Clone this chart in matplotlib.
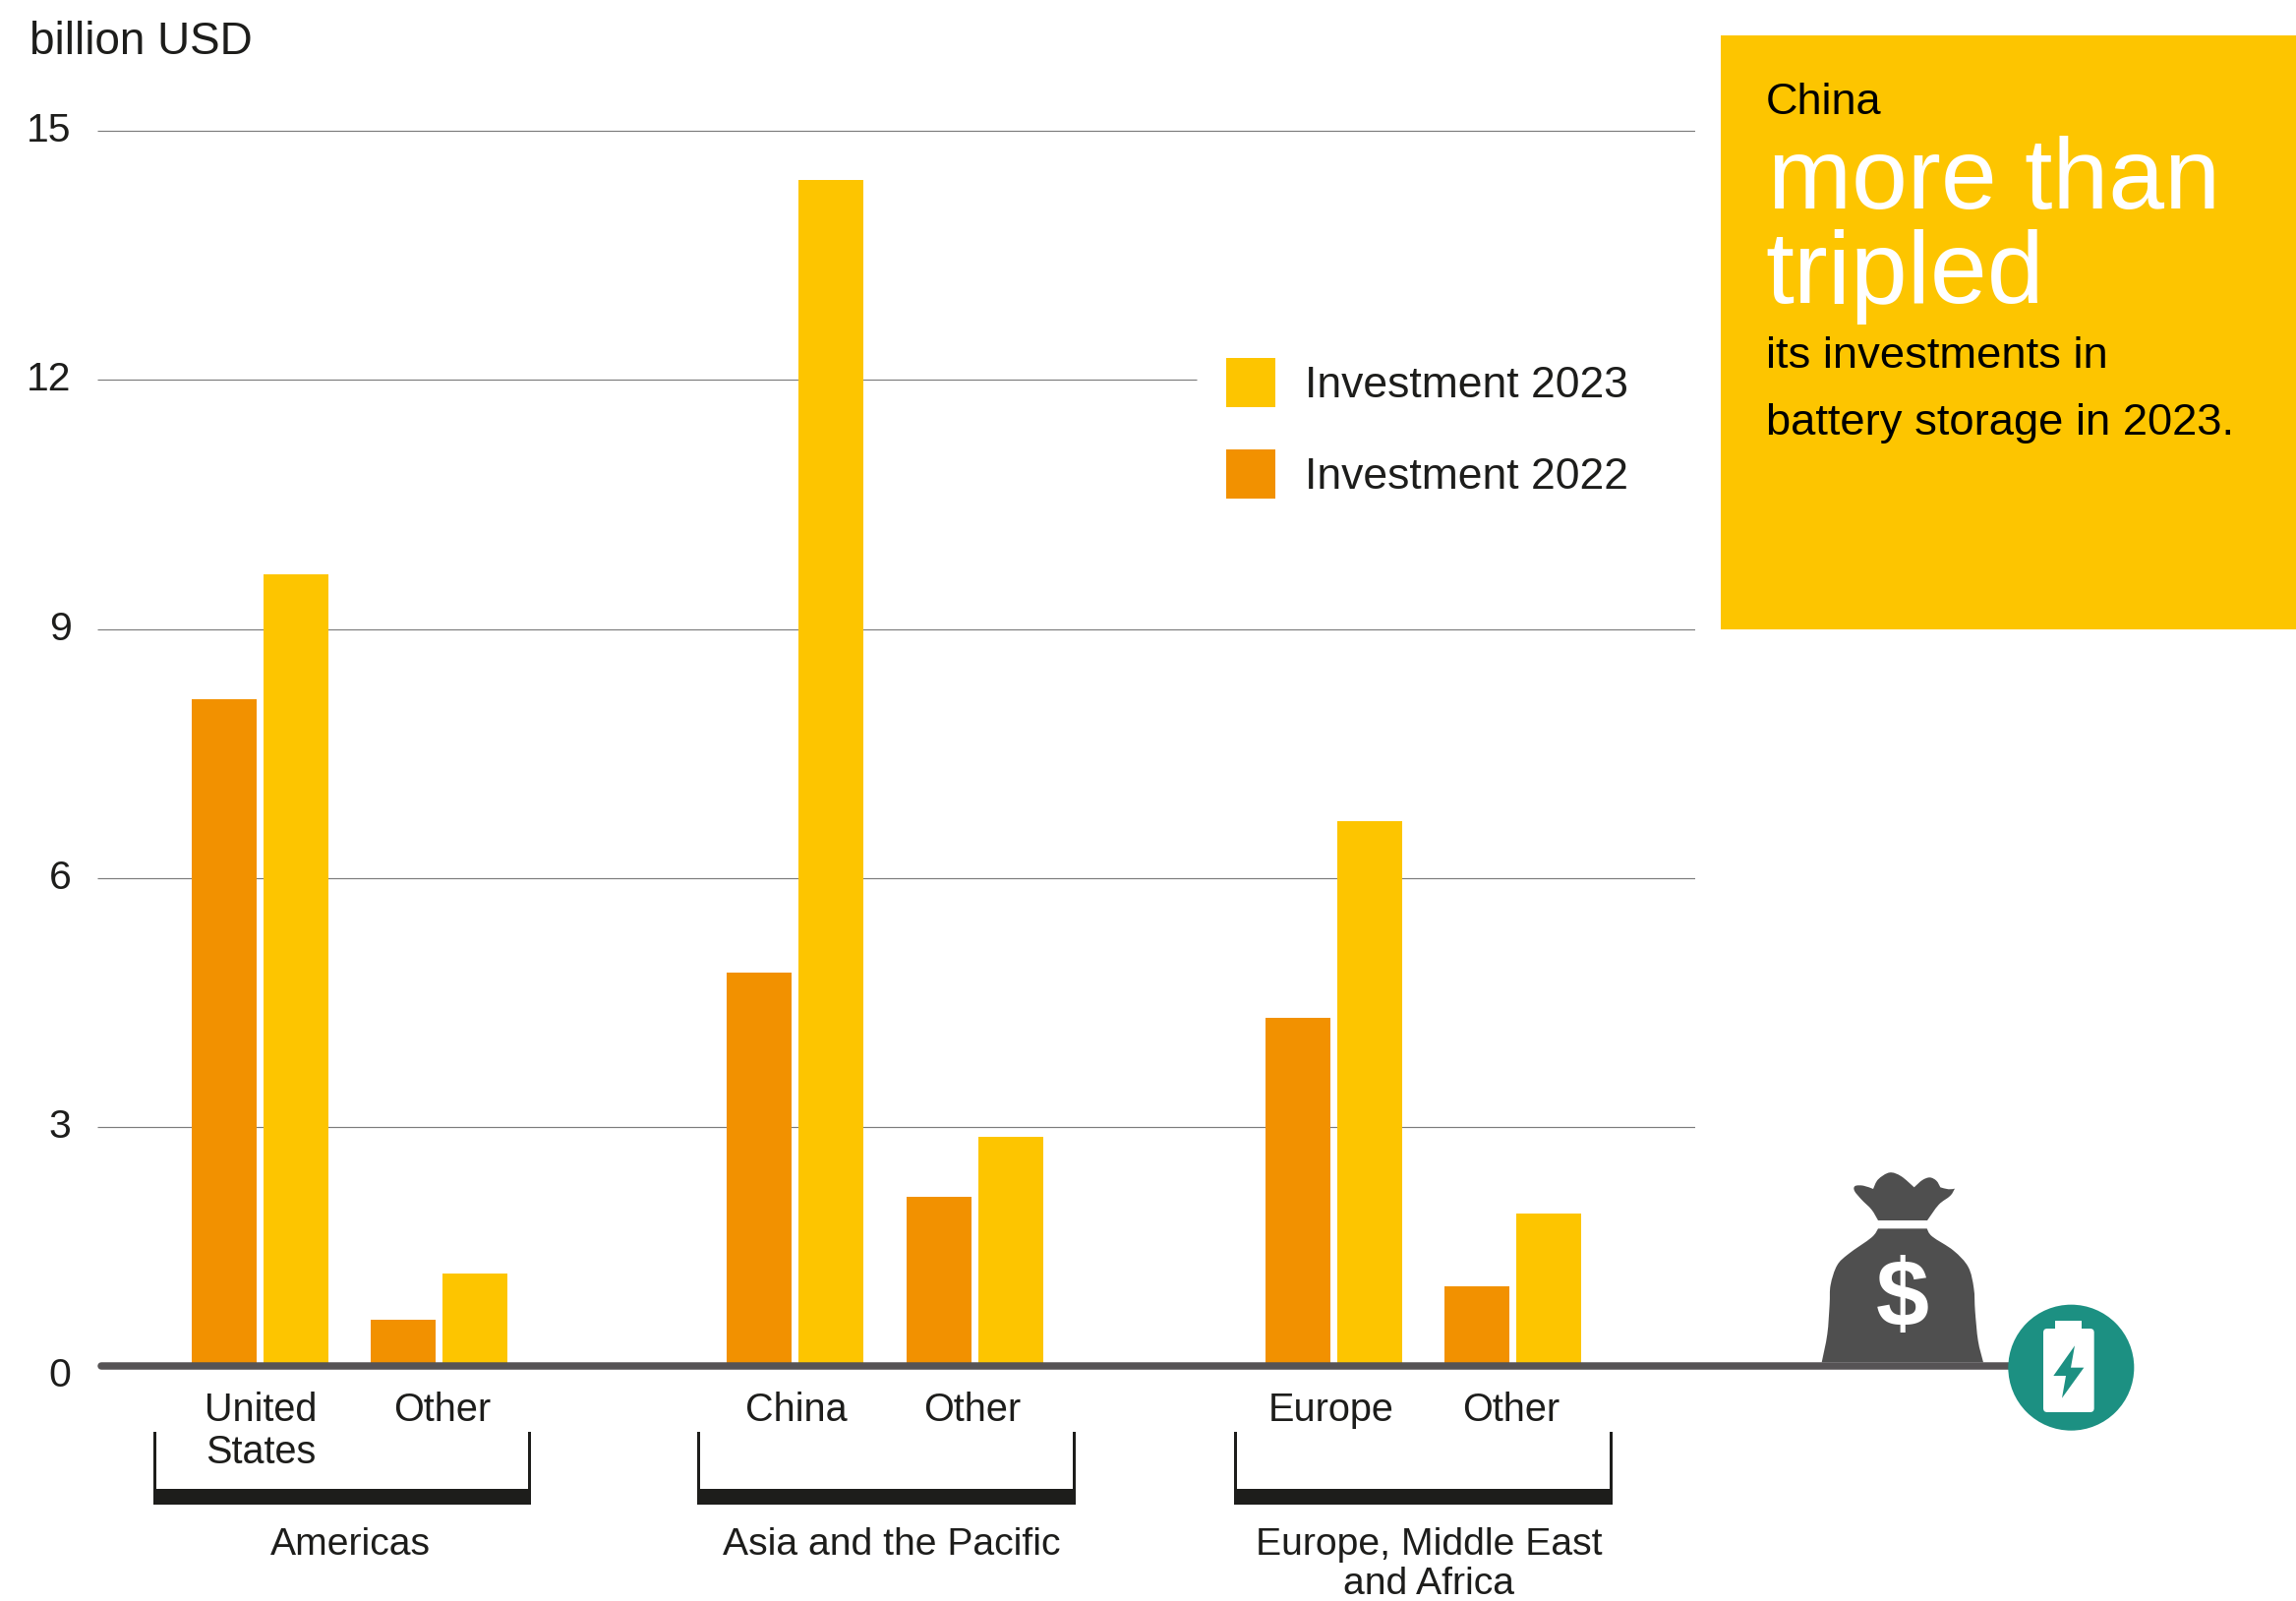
import matplotlib
matplotlib.use("Agg")
import matplotlib.pyplot as plt
from matplotlib.patches import Rectangle, Circle, FancyBboxPatch, PathPatch, Polygon
from matplotlib.path import Path
from matplotlib.transforms import ScaledTranslation

plt.rcParams['font.family'] = ['Liberation Sans', 'DejaVu Sans']

# Battery storage investment, billion USD
categories = ["United\nStates", "Other", "China", "Other", "Europe", "Other"]
investment_2022 = [8.15, 0.68, 4.86, 2.16, 4.32, 1.08]
investment_2023 = [9.66, 1.24, 14.41, 2.88, 6.69, 1.96]
y_ticks = [0, 3, 6, 9, 12, 15]
regions = ["Americas", "Asia and the Pacific", "Europe, Middle East\nand Africa"]

# Category slots along the x axis: pairs of bars, with a gap between regions
slots = [0, 1, 2.99, 3.995, 6, 7]

INK = "#1d1d1b"
ORANGE = "#F29100"
YELLOW = "#FDC500"
AXIS_GREY = "#565355"
GRID_GREY = "#7c7c7c"
TEAL = "#1C9082"

W, H = 2335, 1628
fig = plt.figure(figsize=(W / 100, H / 100), dpi=100, facecolor="white")

# Plot area: one slot is 182 px wide, one billion USD is 84.42 px tall
PX_X0, PX_SLOT = 264.5, 182.0
PX_Y0, PX_UNIT = 1399.4, 84.42
left, right, top, bottom = 99, 1724, 100, 1410


def data_x(px):
    return (px - PX_X0) / PX_SLOT


def data_y(px):
    return (PX_Y0 - px) / PX_UNIT


ax = fig.add_axes([left / W, 1 - bottom / H, (right - left) / W, (bottom - top) / H])
ax.set_xlim(data_x(left), data_x(right))
ax.set_ylim(data_y(bottom), data_y(top))
ax.patch.set_alpha(0)
for s in ax.spines.values():
    s.set_visible(False)
ax.set_xticks([])
ax.set_yticks(y_ticks)
ax.set_yticklabels([str(t) for t in y_ticks], fontsize=29.5, color=INK)
ax.tick_params(axis="y", length=0, pad=19)
lift = ScaledTranslation(0, 4 / 100, fig.dpi_scale_trans)
for tl in ax.get_yticklabels():
    tl.set_transform(tl.get_transform() + lift)

# Horizontal rules; the one at 12 stops short of the legend
for t in y_ticks[1:]:
    end = data_x(1217) if t == 12 else data_x(right)
    ax.hlines(t, data_x(left), end, color=GRID_GREY, lw=0.85, zorder=1)

# The baseline sits just above the zero tick, as drawn in the publication
baseline = 0.125
bar_w = 66 / PX_SLOT
off = 36.5 / PX_SLOT
b22 = ax.bar([s - off for s in slots], [v - baseline for v in investment_2022], bar_w,
             bottom=baseline, color=ORANGE, zorder=2, label="Investment 2022")
b23 = ax.bar([s + off for s in slots], [v - baseline for v in investment_2023], bar_w,
             bottom=baseline, color=YELLOW, zorder=2, label="Investment 2023")
ax.plot([data_x(103), data_x(2106)], [baseline, baseline], color=AXIS_GREY, lw=5.4,
        solid_capstyle="round", zorder=3, clip_on=False)

LEGEND_PX = 32 * 100 / 72
ax.legend(handles=[b23, b22], loc="upper left",
          bbox_to_anchor=(1247 / W, 1 - 364 / H), bbox_transform=fig.transFigure,
          frameon=False, fontsize=32, borderpad=0, borderaxespad=0,
          handlelength=50 / LEGEND_PX, handleheight=1.34,
          handletextpad=30 / LEGEND_PX, labelspacing=0.985, labelcolor=INK)

# Pixel-space layer for annotation, brackets and icons
ov = fig.add_axes([0, 0, 1, 1], facecolor="none")
ov.set_xlim(0, W)
ov.set_ylim(H, 0)
ov.axis("off")


def label(x, y, s, size, color=INK, ha="left", **kw):
    ov.text(x, y, s, fontsize=size, color=color, ha=ha, va="baseline", **kw)


label(30, 55, "billion USD", 33)

# Category labels under each pair of bars
label_centres = [265.5, 449.5, 810, 989, 1354, 1537]
for cx, name in zip(label_centres, categories):
    for i, line in enumerate(name.split("\n")):
        label(cx, 1445 + i * 43, line, 28.5, ha="center")

# Region brackets and names
spans = [(155.5, 540), (709, 1094), (1255, 1640)]
region_centres = [356, 907, 1453.5]
for (x0, x1), cx, name in zip(spans, region_centres, regions):
    ov.add_patch(Rectangle((x0, 1514), x1 - x0, 16, color=INK, lw=0))
    ov.add_patch(Rectangle((x0, 1456), 3, 60, color=INK, lw=0))
    ov.add_patch(Rectangle((x1 - 3, 1456), 3, 60, color=INK, lw=0))
    for i, line in enumerate(name.split("\n")):
        label(cx, 1581 + i * 40, line, 28.2, ha="center")

# Headline box
ov.add_patch(Rectangle((1750, 36), W - 1750, 604, color=YELLOW, lw=0))
label(1796, 116, "China", 32.5, color="black")
label(1798, 212, "more than", 73.5, color="white")
label(1795, 308, "tripled", 75, color="white")
label(1796, 374, "its investments in", 32.7, color="black")
label(1796, 442, "battery storage in 2023.", 32.7, color="black")


def grid(x, y):
    """Icon outlines are noted on a 3x grid anchored at the bag's corner."""
    return (1780 + x / 3, 1150 + y / 3)


def smooth_shape(segments, color):
    """Fill a closed outline; each segment is a run of points smoothed between its ends."""
    verts, codes = [], []
    for run in segments:
        pts = [grid(*p) for p in run]
        if not verts:
            verts.append(pts[0])
            codes.append(Path.MOVETO)
        else:
            verts.append(pts[0])
            codes.append(Path.LINETO)
        for i in range(len(pts) - 1):
            p0 = pts[max(i - 1, 0)]
            p1, p2 = pts[i], pts[i + 1]
            p3 = pts[min(i + 2, len(pts) - 1)]
            c1 = (p1[0] + (p2[0] - p0[0]) / 6, p1[1] + (p2[1] - p0[1]) / 6)
            c2 = (p2[0] - (p3[0] - p1[0]) / 6, p2[1] - (p3[1] - p1[1]) / 6)
            verts += [c1, c2, p2]
            codes += [Path.CURVE4] * 3
    verts.append(verts[0])
    codes.append(Path.CLOSEPOLY)
    ov.add_patch(PathPatch(Path(verts, codes), facecolor=color, lw=0))


# Money bag icon
BAG = "#4F4F4F"
smooth_shape([
    [(390, 273), (370, 240), (340, 210), (318, 183), (320, 168), (345, 167), (375, 177)],
    [(375, 177), (390, 148), (425, 127), (460, 138), (500, 172)],
    [(500, 172), (525, 150), (548, 142), (568, 152), (580, 172)],
    [(580, 172), (605, 178), (624, 176)],
    [(624, 176), (610, 198), (575, 225), (540, 273)],
], BAG)
smooth_shape([
    [(390, 298), (539, 298)],
    [(539, 298), (555, 322), (620, 365), (665, 415), (682, 480), (686, 550), (695, 640), (711, 706)],
    [(711, 706), (218, 706)],
    [(218, 706), (235, 620), (242, 530), (245, 470), (265, 410), (300, 375), (370, 325), (390, 298)],
], BAG)
dx, dy = grid(463, 519)
ov.text(dx, dy, "$", fontsize=70, color="white", fontweight="bold", ha="center", va="center")

# Battery badge
ov.add_patch(Circle(grid(979, 722), 64, color=TEAL, lw=0))
bx, by = grid(894, 603)
ov.add_patch(FancyBboxPatch((bx + 4, by + 4), 155 / 3 - 8, 255 / 3 - 8,
                            boxstyle="round,pad=4", color="white", lw=0))
cx, cy = grid(930, 579)
ov.add_patch(Rectangle((cx, cy), 81 / 3, 10, color="white", lw=0))
ov.add_patch(Polygon([grid(990, 655), grid(925, 747), grid(963, 747),
                      grid(951, 815), grid(1018, 722), grid(978, 722)],
                     closed=True, color=TEAL, lw=0))

fig.savefig("out.png", dpi=100)
